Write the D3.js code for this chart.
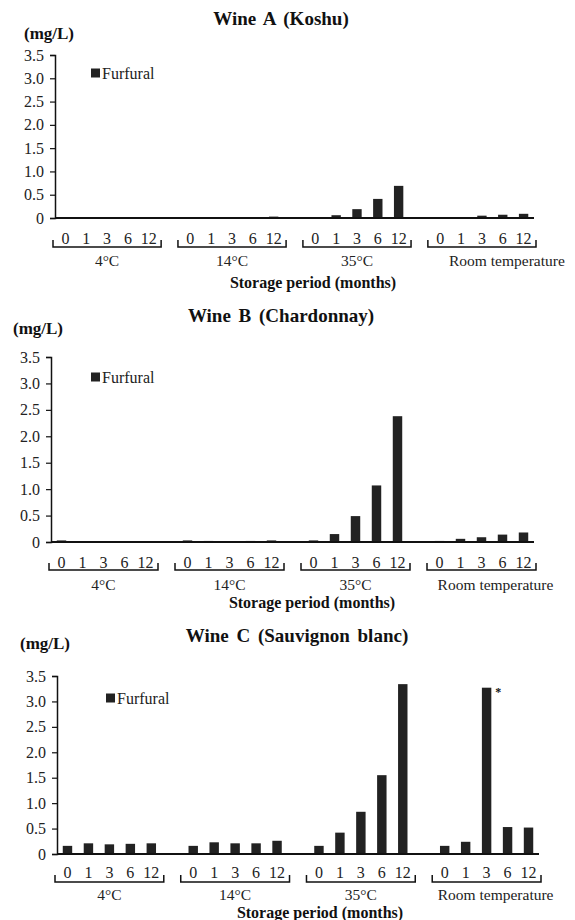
<!DOCTYPE html>
<html>
<head>
<meta charset="utf-8">
<script src="https://cdn.jsdelivr.net/npm/d3@7"></script>
<style>
  body { margin: 0; background: #fff; }
  svg { display: block; font-family: "Liberation Serif", "Times New Roman", serif; }
</style>
</head>
<body>
<div id="chart"></div>
<script>
/* Furfural (mg/L) by storage temperature and period */
var groups = ['4°C', '14°C', '35°C', 'Room temperature'];
var months = ['0', '1', '3', '6', '12'];
var yTicks = [0, 0.5, 1, 1.5, 2, 2.5, 3, 3.5];

var wineA = [0.01, 0.02, 0.01, 0.01, 0.02,  0.01, 0.01, 0.01, 0.02, 0.03,  0.01, 0.06, 0.19, 0.41, 0.69,  0.01, 0.01, 0.05, 0.07, 0.09];
var wineB = [0.03, 0.01, 0.01, 0.01, 0.01,  0.03, 0.02, 0.01, 0.02, 0.03,  0.03, 0.15, 0.49, 1.07, 2.38,  0.02, 0.06, 0.09, 0.14, 0.18];
var wineC = [0.16, 0.21, 0.19, 0.20, 0.21,  0.16, 0.23, 0.21, 0.21, 0.26,  0.16, 0.42, 0.83, 1.55, 3.34,  0.16, 0.24, 3.27, 0.53, 0.52];
var markedC = [17];  // bar flagged with '*'

var panels = [
  { title: 'Wine A (Koshu)', values: wineA, marked: [],
    x0: 55, x1: 534, yZero: 218, yTop: 55, titleX: 281, titleY: 18, unitX: 49, unitY: 33,
    legX: 91, legY: 73, tickY: 238, brY: 247, grpY: 260, axX: 313, axY: 282, roomDx: 25 },
  { title: 'Wine B (Chardonnay)', values: wineB, marked: [],
    x0: 51, x1: 534, yZero: 542, yTop: 357, titleX: 281, titleY: 315, unitX: 38, unitY: 328,
    legX: 91, legY: 377, tickY: 562, brY: 570, grpY: 584, axX: 312, axY: 602, roomDx: 14 },
  { title: 'Wine C (Sauvignon blanc)', values: wineC, marked: markedC,
    x0: 57, x1: 539, yZero: 854, yTop: 676, titleX: 297, titleY: 635, unitX: 45, unitY: 643,
    legX: 106, legY: 698, tickY: 872, brY: 882, grpY: 894, axX: 320, axY: 912, roomDx: 9 }
];

var INK = '#111';
var BAR = '#222';

var svg = d3.select('#chart').append('svg')
  .attr('width', 575)
  .attr('height', 920);

var nSlots = groups.length * (months.length + 1) - 1;

panels.forEach(function (p) {
  var g = svg.append('g');

  var slot = d3.scaleBand().domain(d3.range(nSlots)).range([p.x0, p.x1]).padding(0);
  var barW = slot.bandwidth() * 0.45;
  var y = d3.scaleLinear().domain([0, 3.5]).range([p.yZero, p.yTop]);

  function slotOf(i) { return Math.floor(i / months.length) * (months.length + 1) + (i % months.length); }

  /* Title and unit */
  g.append('text')
    .attr('x', p.titleX).attr('y', p.titleY)
    .attr('text-anchor', 'middle').attr('dominant-baseline', 'central')
    .attr('font-size', 19).attr('font-weight', 'bold').attr('fill', INK)
    .attr('word-spacing', 3)
    .text(p.title);

  g.append('text')
    .attr('x', p.unitX).attr('y', p.unitY)
    .attr('text-anchor', 'middle').attr('dominant-baseline', 'central')
    .attr('font-size', 17).attr('font-weight', 'bold').attr('fill', INK)
    .text('(mg/L)');

  /* Y axis */
  var yAxis = g.append('g')
    .attr('transform', 'translate(' + p.x0 + ',0)')
    .call(d3.axisLeft(y).tickValues(yTicks).tickSize(5).tickPadding(6)
      .tickFormat(function (d) { return d === 0 ? '0' : d.toFixed(1); }));
  yAxis.select('.domain').attr('stroke', INK).attr('stroke-width', 1.5);
  yAxis.selectAll('.tick line').attr('stroke', INK).attr('stroke-width', 1.2);
  yAxis.selectAll('.tick text')
    .attr('font-size', 16).attr('fill', '#222')
    .attr('font-family', '"Liberation Serif", "Times New Roman", serif');

  /* Bars */
  g.selectAll('.bar')
    .data(p.values)
    .join('rect')
    .attr('class', 'bar')
    .attr('x', function (d, i) { return slot(slotOf(i)) + (slot.bandwidth() - barW) / 2; })
    .attr('y', function (d) { return y(d); })
    .attr('width', barW)
    .attr('height', function (d) { return y(0) - y(d); })
    .attr('fill', BAR);

  /* X axis line */
  g.append('line')
    .attr('x1', p.x0).attr('x2', p.x1)
    .attr('y1', y(0)).attr('y2', y(0))
    .attr('stroke', INK).attr('stroke-width', 2);

  /* Significance marks */
  g.selectAll('.mark')
    .data(p.marked)
    .join('text')
    .attr('class', 'mark')
    .attr('x', function (i) { return slot(slotOf(i)) + (slot.bandwidth() + barW) / 2 + 4; })
    .attr('y', function (i) { return y(p.values[i]) + 8; })
    .attr('font-size', 12).attr('font-weight', 'bold').attr('fill', INK)
    .text('*');

  /* Month labels */
  g.selectAll('.month')
    .data(p.values)
    .join('text')
    .attr('class', 'month')
    .attr('x', function (d, i) { return slot(slotOf(i)) + slot.bandwidth() / 2; })
    .attr('y', p.tickY)
    .attr('text-anchor', 'middle').attr('dominant-baseline', 'central')
    .attr('font-size', 16).attr('fill', '#222')
    .text(function (d, i) { return months[i % months.length]; });

  /* Group brackets and labels */
  groups.forEach(function (name, gi) {
    var xs = slot(gi * (months.length + 1)) - 2;
    var xe = slot(gi * (months.length + 1) + months.length - 1) + slot.bandwidth() + 2;
    g.append('path')
      .attr('d', 'M' + xs + ',' + (p.brY - 7) + 'V' + p.brY + 'H' + xe + 'V' + (p.brY - 7))
      .attr('fill', 'none').attr('stroke', INK).attr('stroke-width', 1.5);
    var last = gi === groups.length - 1;
    g.append('text')
      .attr('x', (xs + xe) / 2 + (last ? p.roomDx : 0))
      .attr('y', p.grpY)
      .attr('text-anchor', 'middle').attr('dominant-baseline', 'central')
      .attr('font-size', 15.5).attr('fill', '#222')
      .text(name);
  });

  /* X axis title */
  g.append('text')
    .attr('x', p.axX).attr('y', p.axY)
    .attr('text-anchor', 'middle').attr('dominant-baseline', 'central')
    .attr('font-size', 16).attr('font-weight', 'bold').attr('fill', INK)
    .text('Storage period (months)');

  /* Legend */
  g.append('rect')
    .attr('x', p.legX).attr('y', p.legY - 4.5)
    .attr('width', 9).attr('height', 9)
    .attr('fill', BAR);
  g.append('text')
    .attr('x', p.legX + 11).attr('y', p.legY)
    .attr('dominant-baseline', 'central')
    .attr('font-size', 16).attr('fill', '#222')
    .text('Furfural');
});
</script>
</body>
</html>
